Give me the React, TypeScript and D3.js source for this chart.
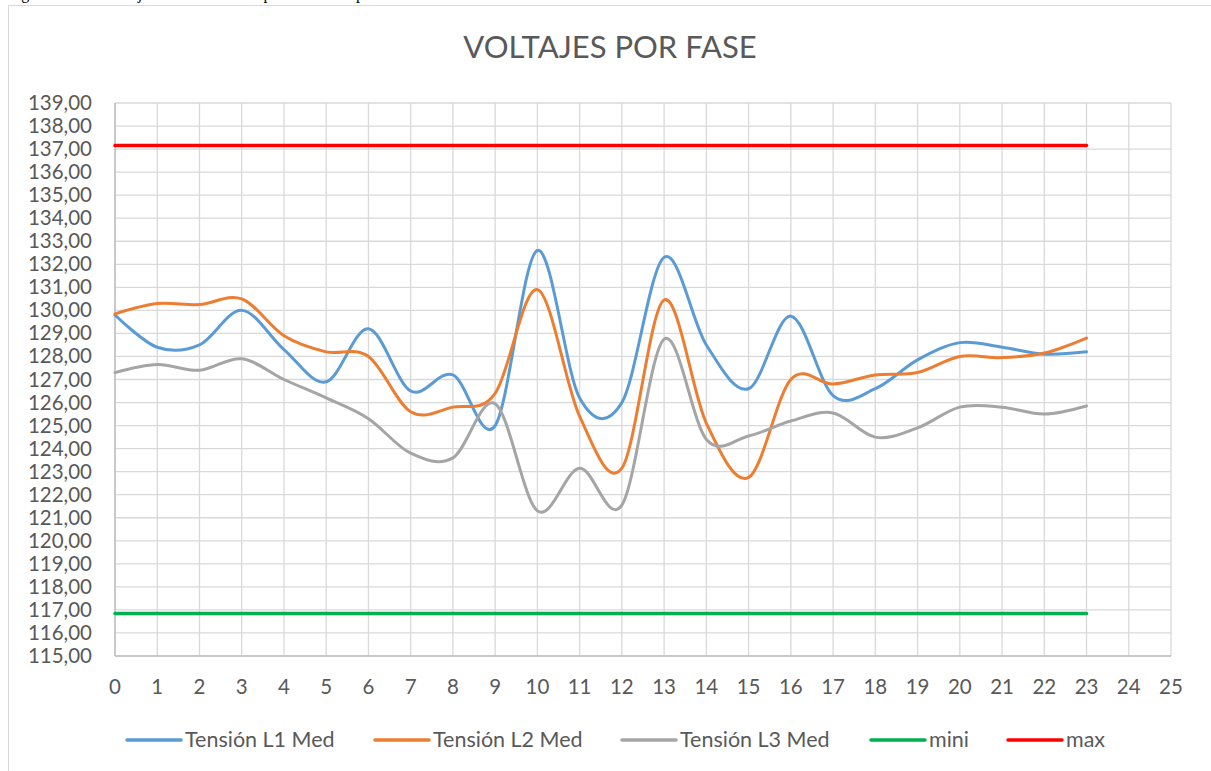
import React from "react";
import * as d3 from "d3";

// hours on the x axis
const hours = d3.range(0, 24);
const xTicks = d3.range(0, 26);
const yTicks = d3.range(115, 140);

const l1 = [129.8, 128.4, 128.5, 130.0, 128.3, 126.9, 129.2, 126.5, 127.2, 125.0, 132.6, 126.2, 126.0, 132.3, 128.5, 126.6, 129.75, 126.3, 126.6, 127.85, 128.6, 128.4, 128.1, 128.2];
const l2 = [129.85, 130.3, 130.25, 130.5, 128.9, 128.2, 128.0, 125.6, 125.8, 126.4, 130.9, 125.4, 123.15, 130.45, 125.1, 122.75, 127.0, 126.8, 127.2, 127.3, 128.0, 127.95, 128.15, 128.8];
const l3 = [127.3, 127.65, 127.4, 127.9, 127.0, 126.2, 125.3, 123.8, 123.6, 125.95, 121.3, 123.15, 121.55, 128.75, 124.4, 124.55, 125.2, 125.55, 124.5, 124.9, 125.8, 125.8, 125.5, 125.85];
const mini = 116.84;
const maxi = 137.16;

const seriesNames = ["Tensión L1 Med", "Tensión L2 Med", "Tensión L3 Med", "mini", "max"];
const seriesColors = ["#5B9BD5", "#ED7D31", "#A5A5A5", "#00B050", "#FF0000"];

const FONT = "Lato, 'Open Sans', sans-serif";
const TEXT = "#595959";

const App: React.FC = () => {
  const width = 1211;
  const height = 771;

  const x = d3.scaleLinear().domain([0, 25]).range([115, 1171]);
  const y = d3.scaleLinear().domain([115, 139]).range([656, 103]);

  const smooth = d3
    .line<number>()
    .x((_, i) => x(hours[i]))
    .y((d) => y(d))
    .curve(d3.curveCardinal.tension(0));

  const flat = (v: number) => hours.map(() => v);
  const series = [l1, l2, l3, flat(mini), flat(maxi)];

  // legend positions (line start)
  const legendX = [127, 375, 622, 871, 1008];
  const legendY = 740;

  return (
    <svg
      width={width}
      height={height}
      style={{ position: "absolute", left: 0, top: 0, background: "#fff" }}
    >
      {/* caption cut off by the top of the page */}
      <text x={8} y={-1} fontFamily="'Liberation Serif', serif" fontSize={16} fill="#000">
        Figura 14. Los voltajes de las tres fases por hora en el punto de medición
      </text>

      <rect x={8.5} y={5.5} width={1230} height={800} fill="#fff" stroke="#d9d9d9" />

      <text
        x={610}
        y={58}
        textAnchor="middle"
        fontFamily={FONT}
        fontSize={31}
        fill={TEXT}
      >
        VOLTAJES POR FASE
      </text>

      {/* grid */}
      <g stroke="#d9d9d9" strokeWidth={1.3}>
        {yTicks.map((t) => (
          <line key={"h" + t} x1={x(0)} x2={x(25)} y1={y(t)} y2={y(t)} />
        ))}
        {xTicks.map((t) => (
          <line key={"v" + t} x1={x(t)} x2={x(t)} y1={y(115)} y2={y(139)} />
        ))}
      </g>
      {/* axis lines */}
      <g stroke="#bfbfbf" strokeWidth={1.5}>
        <line x1={x(0)} x2={x(0)} y1={y(115)} y2={y(139)} />
        <line x1={x(0)} x2={x(25)} y1={y(115)} y2={y(115)} />
      </g>

      {/* y labels */}
      <g fontFamily={FONT} fontSize={20.5} fill={TEXT} textAnchor="end">
        {yTicks.map((t) => (
          <text key={"yl" + t} x={92} y={y(t) + 7}>
            {d3.format(".2f")(t).replace(".", ",")}
          </text>
        ))}
      </g>
      {/* x labels */}
      <g fontFamily={FONT} fontSize={20.5} fill={TEXT} textAnchor="middle">
        {xTicks.map((t) => (
          <text key={"xl" + t} x={x(t)} y={694}>
            {t}
          </text>
        ))}
      </g>

      {/* series */}
      {series.map((s, i) => (
        <path
          key={seriesNames[i]}
          d={smooth(s) || ""}
          fill="none"
          stroke={seriesColors[i]}
          strokeWidth={i > 2 ? 3.5 : 3}
          strokeLinecap="round"
        />
      ))}

      {/* legend */}
      <g fontFamily={FONT} fontSize={21.5} fill={TEXT}>
        {seriesNames.map((n, i) => (
          <g key={"lg" + n}>
            <line
              x1={legendX[i]}
              x2={legendX[i] + 54}
              y1={legendY}
              y2={legendY}
              stroke={seriesColors[i]}
              strokeWidth={3.5}
              strokeLinecap="round"
            />
            <text x={legendX[i] + 58} y={legendY + 7}>
              {n}
            </text>
          </g>
        ))}
      </g>
    </svg>
  );
};

export default App;
